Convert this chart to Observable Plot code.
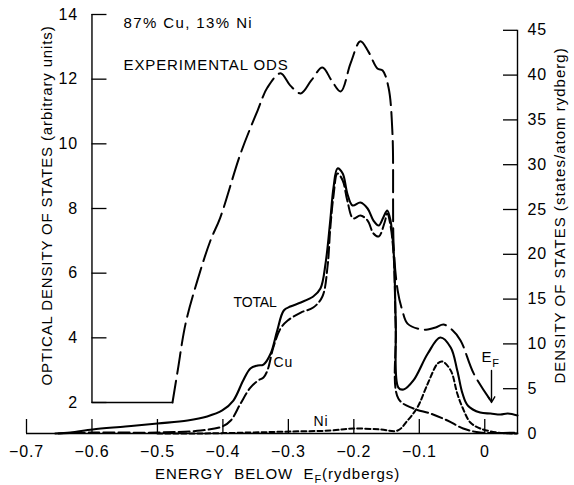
<!DOCTYPE html>
<html>
<head>
<meta charset="utf-8">
<script src="https://cdn.jsdelivr.net/npm/d3@7"></script>
<script src="https://cdn.jsdelivr.net/npm/@observablehq/plot@0.6"></script>
<style>
  body { margin: 0; background: #fff; }
  svg text { letter-spacing: 0.8px; }
</style>
</head>
<body>
<div id="chart"></div>
<script>
// ---- Data (energy below E_F in rydbergs) ----
// Experimental optical density of states (left axis, arbitrary units)
const odsBaseEnergy = [-0.6, -0.477];
const odsBaseValue  = [2, 2];
const odsEnergy = [-0.477, -0.469, -0.457, -0.439, -0.419, -0.404, -0.373, -0.347, -0.332, -0.312,
                   -0.297, -0.281, -0.265, -0.248, -0.234, -0.220, -0.205, -0.190, -0.178, -0.164,
                   -0.156, -0.147, -0.141, -0.139, -0.133, -0.126, -0.118, -0.098, -0.087, -0.075,
                   -0.063, -0.050, -0.037, -0.017, 0.009];
const odsValue  = [2.0, 2.99, 4.44, 5.77, 7.01, 7.72, 9.70, 11.03, 11.74, 12.18,
                   11.80, 11.56, 11.96, 12.36, 11.96, 11.62, 12.49, 13.17, 12.86, 12.33,
                   12.27, 11.74, 10.32, 6.79, 5.46, 4.85, 4.44, 4.26, 4.26, 4.32,
                   4.41, 4.25, 3.92, 2.90, 2.06];

// Calculated total density of states (right axis, states/atom rydberg)
const totalEnergy = [-0.656, -0.633, -0.599, -0.549, -0.500, -0.454, -0.424, -0.401, -0.384, -0.369,
                     -0.358, -0.347, -0.338, -0.327, -0.317, -0.307, -0.297, -0.281, -0.262, -0.251,
                     -0.243, -0.236, -0.231, -0.225, -0.217, -0.210, -0.202, -0.190, -0.179, -0.170,
                     -0.162, -0.155, -0.149, -0.144, -0.139, -0.136, -0.132, -0.124, -0.109, -0.087,
                     -0.068, -0.052, -0.042, -0.034, -0.026, -0.007, 0.009, 0.024, 0.035, 0.050];
const totalDos    = [0, 0.11, 0.45, 0.78, 1.12, 1.45, 1.90, 2.57, 3.68, 5.92,
                     7.25, 7.59, 7.70, 8.93, 11.50, 13.73, 14.17, 14.62, 15.29, 16.18,
                     19.08, 23.77, 27.46, 29.58, 29.02, 26.79, 25.45, 25.78, 25.11, 23.77,
                     23.21, 24.11, 24.89, 23.77, 20.09, 12.61, 5.13, 4.91, 5.92, 8.93,
                     10.71, 9.60, 7.03, 4.46, 3.13, 2.34, 2.23, 2.12, 2.23, 2.01];

// Cu partial density of states
const cuEnergy = [-0.651, -0.599, -0.500, -0.434, -0.401, -0.388, -0.373, -0.358, -0.346, -0.338,
                  -0.332, -0.323, -0.312, -0.301, -0.281, -0.262, -0.248, -0.240, -0.236, -0.231,
                  -0.225, -0.217, -0.210, -0.201, -0.190, -0.179, -0.170, -0.162, -0.153, -0.149,
                  -0.144, -0.139, -0.136, -0.132, -0.109, -0.083, -0.057, -0.033, -0.007, 0.050];
const cuDos    = [0, 0.11, 0.11, 0.33, 0.78, 1.45, 3.35, 5.13, 5.92, 6.25,
                  7.03, 9.60, 11.72, 12.61, 13.50, 14.06, 15.29, 18.75, 22.88, 26.56,
                  29.02, 28.24, 26.00, 24.00, 24.33, 23.77, 22.32, 21.99, 23.55, 24.55,
                  23.21, 19.64, 11.50, 3.91, 2.79, 2.23, 1.45, 0.56, 0.11, 0.11];

// Ni partial density of states
const niEnergy = [-0.500, -0.434, -0.358, -0.297, -0.236, -0.201, -0.159, -0.133, -0.118, -0.103,
                  -0.087, -0.072, -0.065, -0.052, -0.042, -0.034, -0.022, -0.007, 0.019, 0.050];
const niDos    = [0, 0, 0.11, 0.22, 0.33, 0.56, 0.45, 0.33, 1.45, 2.90,
                  5.58, 7.81, 8.04, 7.03, 4.46, 2.90, 1.23, 0.56, 0.11, 0];

// Ticks
const xTicks = [-0.7, -0.6, -0.5, -0.4, -0.3, -0.2, -0.1, 0];
const leftTicks = [2, 4, 6, 8, 10, 12, 14];
const rightTicks = [0, 5, 10, 15, 20, 25, 30, 35, 40, 45];

// ---- Build ----
const X0 = -0.7, X1 = 0.05;          // x domain
const YMAX = 419 / 8.96;             // right-axis units at top of the plot
const pxX = (X1 - X0) / 491;         // data units per pixel (x)
const pxY = YMAX / 419;              // data units per pixel (y)
// map left-axis values (ODS) onto right-axis units
const L = d3.scaleLinear().domain([2, 14]).range([31 / 8.96, YMAX]);

const zip = (xs, ys) => xs.map((x, i) => ({x, y: ys[i]}));
const odsBase = zip(odsBaseEnergy, odsBaseValue.map(v => L(v)));
const ods = zip(odsEnergy, odsValue.map(v => L(v)));
const total = zip(totalEnergy, totalDos);
const cu = zip(cuEnergy, cuDos);
const ni = zip(niEnergy, niDos);

const xAt = px => X0 + (px - 26) * pxX;
const yAt = py => (433 - py) * pxY;

const font = "'Liberation Sans', Arial, Helvetica, sans-serif";

const chart = Plot.plot({
  width: 574,
  height: 485,
  marginLeft: 26,
  marginRight: 57,
  marginTop: 14,
  marginBottom: 52,
  x: {domain: [X0, X1]},
  y: {domain: [0, YMAX]},
  style: {fontFamily: font, fontSize: "16px", color: "#000", background: "#fff"},
  marks: [
    // axis lines
    Plot.ruleY([0], {x1: X0, x2: X1, strokeWidth: 1.6}),
    Plot.ruleX([X1], {y1: 0, y2: 45, strokeWidth: 1.4}),
    Plot.ruleX([-0.6], {y1: L(2), y2: L(14), strokeWidth: 1.4}),
    // tick marks (pointing inward)
    Plot.ruleX(xTicks, {y1: 0, y2: 14 * pxY, strokeWidth: 1.3}),
    Plot.ruleY(leftTicks.map(v => L(v)), {x1: -0.6, x2: -0.6 + 15 * pxX, strokeWidth: 1.3}),
    Plot.ruleY(rightTicks, {x1: X1 - 14 * pxX, x2: X1, strokeWidth: 1.3}),
    // tick labels
    Plot.axisX(xTicks, {tickSize: 0, tickPadding: 12, fontSize: 16, label: null,
      tickFormat: d => d === 0 ? "0" : d3.format(".1f")(d)}),
    Plot.axisY(rightTicks, {anchor: "right", tickSize: 0, tickPadding: 10, fontSize: 16, label: null}),
    Plot.text(leftTicks, {x: -0.6, y: d => L(d), text: d => String(d), dx: -14,
      textAnchor: "end", fontSize: 16}),
    // curves
    Plot.line(odsBase, {x: "x", y: "y", stroke: "black", strokeWidth: 1.6}),
    Plot.line(ods, {x: "x", y: "y", curve: "catmull-rom", stroke: "black", strokeWidth: 2,
      strokeDasharray: "22,7"}),
    Plot.line(total, {x: "x", y: "y", curve: "catmull-rom", stroke: "black", strokeWidth: 2.1}),
    Plot.line(cu, {x: "x", y: "y", curve: "catmull-rom", stroke: "black", strokeWidth: 2,
      strokeDasharray: "11,4"}),
    Plot.line(ni, {x: "x", y: "y", curve: "catmull-rom", stroke: "black", strokeWidth: 2,
      strokeDasharray: "5,3"}),
    // E_F arrow
    Plot.arrow([0], {x1: xAt(491), x2: xAt(491), y1: yAt(370), y2: yAt(402),
      headLength: 7, strokeWidth: 1.4}),
    // annotations
    Plot.text(["87% Cu, 13% Ni"], {x: xAt(123), y: yAt(23), text: d => d, textAnchor: "start", fontSize: 15}),
    Plot.text(["EXPERIMENTAL ODS"], {x: xAt(123), y: yAt(65), text: d => d, textAnchor: "start", fontSize: 15}),
    Plot.text(["TOTAL"], {x: xAt(233), y: yAt(302), text: d => d, textAnchor: "start", fontSize: 14}),
    Plot.text(["Cu"], {x: xAt(273), y: yAt(362), text: d => d, textAnchor: "start", fontSize: 14}),
    Plot.text(["Ni"], {x: xAt(313), y: yAt(421), text: d => d, textAnchor: "start", fontSize: 14}),
    Plot.text(["EF"], {x: xAt(481), y: yAt(357), text: d => d, textAnchor: "start", fontSize: 15}),
    // axis titles
    Plot.text(["ENERGY BELOW EF (rydbergs)"], {x: xAt(277), y: yAt(474), text: d => d, fontSize: 15}),
    Plot.text(["OPTICAL DENSITY OF STATES (arbitrary units)"], {x: xAt(47), y: yAt(205), text: d => d,
      rotate: -90, fontSize: 15}),
    Plot.text(["DENSITY OF STATES (states/atom rydberg)"], {x: xAt(560), y: yAt(215), text: d => d,
      rotate: -90, fontSize: 15})
  ]
});

document.getElementById("chart").appendChild(chart);

// ---- Typographic touches (subscripts, spacing) ----
const svg = d3.select(chart);
const byText = s => svg.selectAll("text").filter(function() { return this.textContent === s; });
const fit = (s, len) => byText(s).attr("textLength", len).attr("lengthAdjust", "spacing");

fit("87% Cu, 13% Ni", 129);
fit("EXPERIMENTAL ODS", 165);
fit("TOTAL", 44);
fit("OPTICAL DENSITY OF STATES (arbitrary units)", 360);
fit("DENSITY OF STATES (states/atom rydberg)", 336);

{
  const t = byText("ENERGY BELOW EF (rydbergs)");
  t.text(null);
  t.append("tspan").text("ENERGY  BELOW  E");
  t.append("tspan").attr("dy", 4).attr("font-size", 11).text("F");
  t.append("tspan").attr("dy", -4).text("(rydbergs)");
  t.style("white-space", "pre").attr("textLength", 245).attr("lengthAdjust", "spacing");
}
{
  const t = byText("EF");
  t.text(null);
  t.append("tspan").text("E");
  t.append("tspan").attr("dy", 5).attr("font-size", 11).text("F");
}
</script>
</body>
</html>
